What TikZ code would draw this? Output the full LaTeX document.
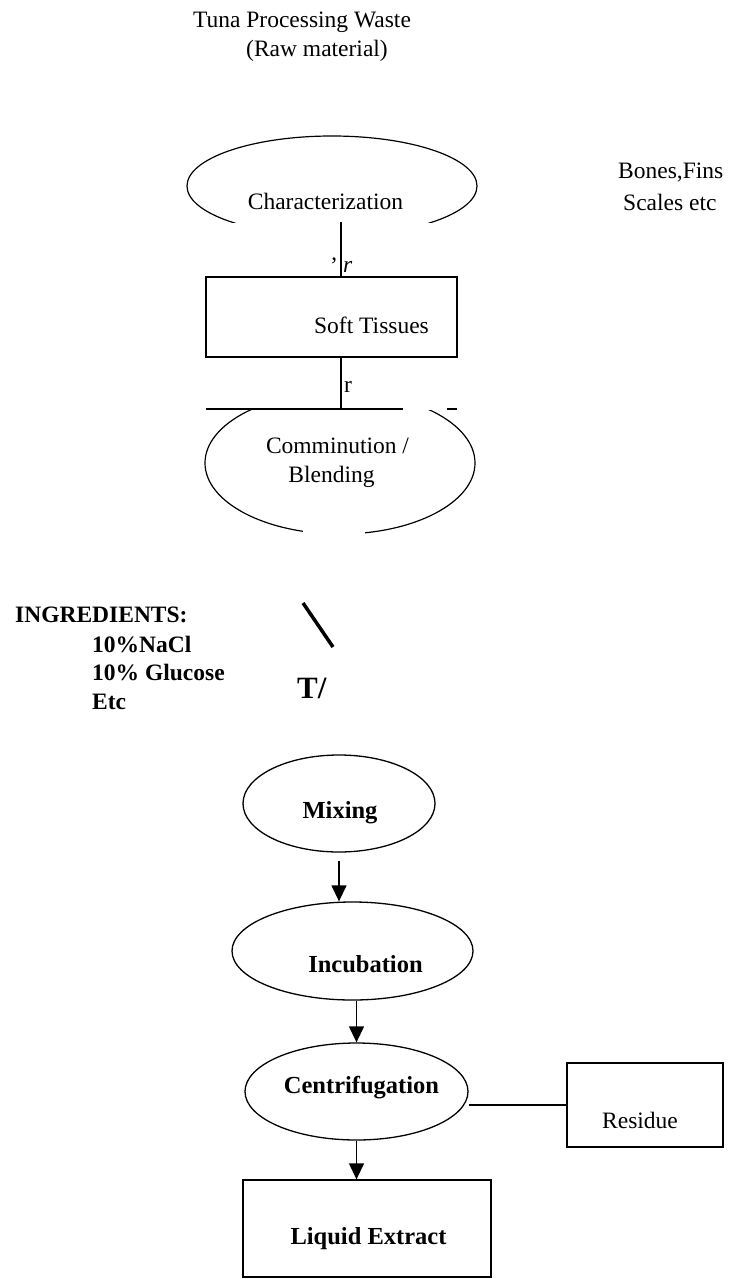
\documentclass[tikz,border=0pt]{standalone}
\usepackage{fontspec}
\setmainfont{Liberation Serif}
\usetikzlibrary{shapes.geometric,arrows.meta}
\newcommand{\word}[4]{\node[txt] (#1) at (#2,#3) {#4};}
\newcommand{\bword}[4]{\node[btxt] (#1) at (#2,#3) {#4};}
\tikzset{
  txt/.style={anchor=base, inner sep=0pt, font=\fontsize{23.5}{28}\selectfont},
  btxt/.style={txt, font=\bfseries\fontsize{24.5}{29}\selectfont},
  ingr/.style={txt, anchor=base west, font=\bfseries\fontsize{23.5}{28}\selectfont},
  thin/.style={line width=1.2pt},
  box/.style={draw, rectangle, inner sep=0pt, line width=2pt},
  oval/.style={draw, ellipse, inner sep=0pt, line width=1.3pt},
  flow/.style={line width=1.3pt, -{Triangle[width=15pt,length=16pt]}},
}

\begin{document}
\begin{tikzpicture}[x=1pt, y=-1pt]
	\useasboundingbox (0,0) rectangle (730,1279);

	% raw material
	\word{raw}{302}{28}{Tuna Processing Waste}
	\word{rawb}{317}{57}{(Raw material)}
	\node[txt, anchor=base west] (bones) at (618,178) {Bones,Fins};
	\node[txt, anchor=base west] (scales) at (623,210) {Scales etc};

	% characterization, bottom cut away
	\node[ellipse, minimum width=290pt, minimum height=100pt] (charac) at (332,186) {};
	\begin{scope}
		\clip (0,0) rectangle (730,222);
		\draw[thin] (charac.center) ellipse [x radius=145pt, y radius=50pt];
	\end{scope}
	\word{characT}{325.5}{209}{Characterization}

	\coordinate (cut) at (341,222);
	\node[box, minimum width=251pt, minimum height=80pt] (soft) at (331.5,317) {};
	\word{softT}{371.5}{333}{Soft Tissues}
	\draw[line width=1.5pt] (cut) -- (cut |- soft.north);
	\word{tick}{334}{273}{’}
	\node[txt, anchor=base west] (rit) at (343,272) {\itshape r};

	% bar above comminution
	\coordinate (barL) at (206,409);
	\coordinate (barM) at (403,409);
	\coordinate (barN) at (447,409);
	\coordinate (barR) at (457,409);
	\draw[line width=1.5pt] (soft.south -| cut) -- (cut |- barL);
	\draw[line width=2pt] (barL) -- (barM) (barN) -- (barR);
	\node[txt, anchor=base west] (rup) at (344,392) {r};

	% comminution
	\node[ellipse, minimum width=270pt, minimum height=142pt] (commin) at (340,463) {};
	\begin{scope}
		\clip (0,410) rectangle (730,1279);
		\draw[thin] (commin.center) ellipse [x radius=135pt, y radius=71pt];
	\end{scope}
	\fill[white] (303,522) rectangle (365,540);
	\word{comminT}{337.5}{453}{Comminution /}
	\word{comminB}{331.5}{482}{Blending}

	% ingredients
	\node[ingr] (ingr) at (15,622) {INGREDIENTS:};
	\node[ingr] (nacl) at (92,652) {10\%NaCl};
	\node[ingr] (gluc) at (92,680) {10\% Glucose};
	\node[ingr] (etc) at (92,709) {Etc};
	\coordinate (slashA) at (303,603);
	\coordinate (slashB) at (333,647);
	\draw[line width=3.5pt] (slashA) -- (slashB);
	\node[ingr, font=\bfseries\fontsize{31}{36}\selectfont] (tee) at (297,698) {T/};

	% extraction
	\node[oval, minimum width=192pt, minimum height=97pt] (mix) at (339,803.5) {};
	\node[oval, minimum width=241pt, minimum height=98pt] (incub) at (352.5,951) {};
	\node[oval, minimum width=223pt, minimum height=97pt] (centri) at (356.5,1091.5) {};
	\node[box, line width=1.3pt, minimum width=248pt, minimum height=97pt] (liquid) at (367,1228.5) {};
	\node[box, minimum width=156pt, minimum height=84pt] (resid) at (645,1105) {};
	\bword{mixT}{340}{818}{Mixing}
	\bword{incubT}{365.5}{972}{Incubation}
	\bword{centriT}{361.5}{1093}{Centrifugation}
	\bword{liquidT}{368.5}{1244}{Liquid Extract}
	\word{residT}{640}{1128}{Residue}

	\draw[flow] ([yshift=-8pt]mix.south) -- (mix.south |- incub.north);
	\draw[flow] (incub.south -| centri.north) -- (centri.north);
	\draw[flow] (centri.south) -- (centri.south |- liquid.north);
	\draw[line width=1.5pt] (resid.west) -- (centri.east |- resid.west);
\end{tikzpicture}
\end{document}
